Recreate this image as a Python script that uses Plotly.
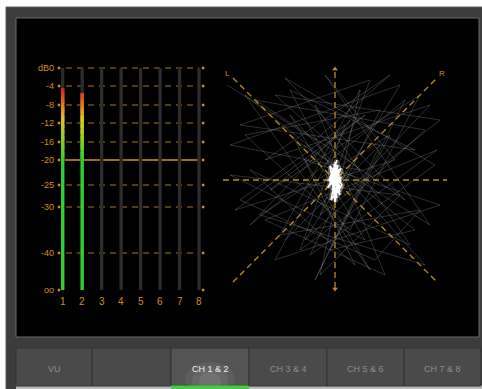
import numpy as np
import plotly.graph_objects as go

W, H = 482, 389

# ---- meter data ----
SCALE_LABELS = ["dB0", "-4", "-8", "-12", "-16", "-20", "-25", "-30", "-40", "oo"]
SCALE_DB = [0, -4, -8, -12, -16, -20, -25, -30, -40, -90]
CHANNELS = [1, 2, 3, 4, 5, 6, 7, 8]
CHANNEL_LABELS = ["1", "2", "3", "4", "5", "6", "7", "8"]
CHANNEL_LEVELS_DB = [-4.6, -5.5, None, None, None, None, None, None]

# ---- phase scope data (scope units, L/R diagonals at +-1) ----
SCOPE_X = [-1.08, -0.20, 0.55, -0.70, 0.95, 0.10, -0.45, 0.80, -0.95, 0.35,
           -0.15, 1.05, -0.60, 0.25, -1.05, 0.65, -0.30, 0.90, -0.80, 0.05,
           0.70, -0.50, 1.00, -0.25, 0.45, -0.90, 0.15, 0.85, -0.65, 0.30,
           -1.00, 0.60, -0.10, 0.95, -0.40, 0.20, -0.85, 0.75, -0.20, 0.50,
           -0.70, 1.02, -0.35, 0.10, -0.95, 0.40, 0.85, -0.55, 0.25, -0.15,
           0.65, -1.05, 0.30, -0.45, 0.90, -0.75, 0.55, -0.05, 0.80, -0.90,
           0.35, -0.30, 1.05, -0.60, 0.15, -0.85, 0.70, -0.20, 0.45, -0.50]
SCOPE_Y = [0.95, 0.40, 1.05, 0.20, 0.75, -0.15, 0.90, 0.30, 0.55, 1.00,
           -0.35, 0.60, 0.85, 0.10, 0.35, 0.95, -0.60, 0.50, 0.80, 0.25,
           -0.20, 1.02, 0.15, -0.75, 0.70, 0.45, -0.50, 0.85, -0.10, 0.65,
           -0.30, 0.20, 1.05, -0.45, 0.40, -0.85, 0.10, -0.65, 0.75, -0.95,
           -0.40, 0.30, -0.70, 0.55, -0.20, -0.80, -0.30, -0.55, 0.90, -0.95,
           -0.15, 0.05, -0.60, 0.65, -0.85, -0.35, 0.45, -0.70, -0.50, 0.85,
           -0.90, 0.20, -0.25, -0.80, 0.60, -0.45, 0.80, -1.00, 0.35, -0.60]
BLOB_X = [0.00, 0.04, -0.03, 0.06, -0.05, 0.02, -0.06, 0.05, -0.02, 0.07,
          -0.04, 0.03, -0.07, 0.01, 0.05, -0.03, 0.06, -0.05, 0.00, 0.04,
          -0.06, 0.03, -0.02, 0.06, -0.04, 0.02, -0.05, 0.05, -0.01, 0.03,
          -0.03, 0.04, -0.02, 0.01]
BLOB_Y = [0.18, 0.05, -0.10, 0.12, -0.02, 0.20, 0.00, -0.15, 0.10, -0.05,
          -0.20, 0.15, -0.08, 0.08, -0.12, 0.03, -0.01, 0.14, -0.22, 0.06,
          -0.06, 0.11, -0.14, 0.02, 0.09, -0.18, 0.04, -0.09, 0.16, -0.04,
          0.07, -0.11, 0.01, -0.16]

TAB_LABELS = ["VU", "", "CH 1 & 2", "CH 3 & 4", "CH 5 & 6", "CH 7 & 8"]
ACTIVE_TAB = 2

# ---- styling / geometry ----
ORANGE = "#d48c25"
DASH_ORANGE = "#a87722"
SCALE_POS = [222, 204, 185, 167, 148, 130, 105, 83, 37, 0]  # px above the oo line
TAB_EDGES = [16, 92, 171, 249, 327, 404, 481]
GRAD_DB = [-20, -15, -11, -7.5, -4.5]
GRAD_RGB = [(48, 210, 48), (150, 210, 30), (225, 200, 30), (230, 110, 25), (215, 30, 25)]

# meter x scale: column 1 at px 62.7, 19.47 px per column
COL_PX0, COL_STEP = 62.7, 19.47
Y_BOTTOM = 290


def px(x):
    return x / W


def py(y):
    return 1 - y / H


def db_to_pos(db):
    return float(np.interp(db, SCALE_DB[::-1], SCALE_POS[::-1]))


def level_color(db):
    r, g, b = (np.interp(db, GRAD_DB, [c[i] for c in GRAD_RGB]) for i in range(3))
    return f"rgb({int(r)},{int(g)},{int(b)})"


fig = go.Figure()

# column tracks
top = db_to_pos(0)
fig.add_trace(go.Bar(x=CHANNELS, base=[0] * 8, y=[top] * 8, width=0.17,
                     marker=dict(color="#2c2c2c", line_width=0),
                     xaxis="x", yaxis="y", hoverinfo="skip"))

p20 = db_to_pos(-20)
# level bars: green up to -20 dB, then graded to red
bx, bbase, bh, bcol = [], [], [], []
for ch, lvl in zip(CHANNELS, CHANNEL_LEVELS_DB):
    if lvl is None:
        continue
    bx.append(ch); bbase.append(0); bh.append(p20); bcol.append(level_color(-20))
    for d in np.arange(-20, lvl, 0.25):
        d2 = min(d + 0.25, lvl)
        b0, b1 = db_to_pos(d), db_to_pos(d2)
        bx.append(ch); bbase.append(b0); bh.append(b1 - b0 + 0.3); bcol.append(level_color(d))
fig.add_trace(go.Bar(x=bx, base=bbase, y=bh, width=0.17,
                     marker=dict(color=bcol, line_width=0),
                     xaxis="x", yaxis="y", hoverinfo="skip"))

# end dots
dx, dy = [], []
for lab, db in zip(SCALE_LABELS, SCALE_DB):
    p = db_to_pos(db)
    dx += [0.81, 8.21]
    dy += [p, p]
fig.add_trace(go.Scatter(x=dx, y=dy, mode="markers",
                         marker=dict(color=ORANGE, size=2.5, symbol="square"),
                         xaxis="x", yaxis="y", hoverinfo="skip", cliponaxis=False))

# ---- phase scope ----
fig.add_trace(go.Scatter(x=SCOPE_X, y=SCOPE_Y, mode="lines",
                         line=dict(color="rgba(160,160,160,0.36)", width=0.8),
                         xaxis="x2", yaxis="y2", hoverinfo="skip"))
guide = dict(color="#c08828", width=1.3, dash="6px,4px")
fig.add_trace(go.Scatter(x=[-1.12, 1.12, None, 0, 0, None, -1.02, 1.02, None, -1.02, 1.02],
                         y=[0, 0, None, -1.08, 1.10, None, 1.02, -1.02, None, -1.02, 1.02],
                         mode="lines", line=guide,
                         xaxis="x2", yaxis="y2", hoverinfo="skip"))
fig.add_trace(go.Scatter(x=[0, 0], y=[1.11, -1.09], mode="markers",
                         marker=dict(color="#c08828", size=5,
                                     symbol=["triangle-up", "triangle-down"]),
                         xaxis="x2", yaxis="y2", hoverinfo="skip", cliponaxis=False))
fig.add_trace(go.Scatter(x=BLOB_X, y=BLOB_Y, mode="lines",
                         line=dict(color="rgba(255,255,255,0.3)", width=5),
                         xaxis="x2", yaxis="y2", hoverinfo="skip"))
fig.add_trace(go.Scatter(x=BLOB_X, y=BLOB_Y, mode="lines",
                         line=dict(color="white", width=1.5),
                         xaxis="x2", yaxis="y2", hoverinfo="skip"))

# ---- panels ----
shapes = [
    dict(type="rect", xref="paper", yref="paper", x0=px(6), x1=px(484), y0=py(392), y1=py(7),
         fillcolor="#3c3c3c", line=dict(color="#5a5a5a", width=1), layer="below"),
    dict(type="rect", xref="paper", yref="paper", x0=px(16), x1=px(479), y0=py(337), y1=py(18),
         fillcolor="black", line=dict(color="#6a6a6a", width=1), layer="below"),
    dict(type="rect", xref="paper", yref="paper", x0=px(16), x1=px(482), y0=py(389), y1=py(385),
         fillcolor="#b8b8b8", line_width=0, layer="below"),
]
# meter scale lines, drawn as shapes on the meter axes
for lab, db in zip(SCALE_LABELS, SCALE_DB):
    if lab == "oo":
        continue
    p = db_to_pos(db)
    solid = lab == "-20"
    shapes.append(dict(type="line", xref="x", yref="y", x0=1.1 if solid else 1.17, x1=8.0,
                       y0=p, y1=p, layer="below",
                       line=dict(color="#a06c1c" if solid else DASH_ORANGE,
                                 width=2 if solid else 1.2,
                                 dash="solid" if solid else "6px,5px")))

annotations = []
for i, lab in enumerate(TAB_LABELS):
    x0, x1 = TAB_EDGES[i], TAB_EDGES[i + 1]
    active = i == ACTIVE_TAB
    shapes.append(dict(type="rect", xref="paper", yref="paper", x0=px(x0), x1=px(x1),
                       y0=py(386), y1=py(348), fillcolor="#545454" if active else "#4a4a4a",
                       line=dict(color="#333333", width=1), layer="below"))
    if active:
        for k, a in enumerate([0.06, 0.06, 0.07]):
            shapes.append(dict(type="circle", xref="paper", yref="paper",
                               x0=px(x0 + 14 + 7 * k), x1=px(x1 - 14 - 7 * k),
                               y0=py(396 - 2 * k), y1=py(362 + 5 * k),
                               fillcolor=f"rgba(255,255,255,{a})", line_width=0, layer="below"))
        shapes.append(dict(type="rect", xref="paper", yref="paper", x0=px(x0), x1=px(x1),
                           y0=py(389), y1=py(385.5), fillcolor="#3fd03f", line_width=0, layer="below"))
    if lab:
        annotations.append(dict(x=px((x0 + x1) / 2), y=py(369), xref="paper", yref="paper",
                                text=lab, showarrow=False, xanchor="center", yanchor="middle",
                                font=dict(color="#f2f2f2" if active else "#8c8c8c", size=9,
                                          family="Liberation Sans")))

# meter labels (paper coords, so they are not hidden outside the axis range)
for lab, db in zip(SCALE_LABELS, SCALE_DB):
    annotations.append(dict(x=px(56), y=py(Y_BOTTOM - db_to_pos(db)), xref="paper", yref="paper",
                            text=lab, xanchor="right", yanchor="middle", showarrow=False,
                            font=dict(color=ORANGE, size=9, family="Liberation Sans")))
for ch, lab in zip(CHANNELS, CHANNEL_LABELS):
    annotations.append(dict(x=px(COL_PX0 + (ch - 1) * COL_STEP), y=py(301), xref="paper", yref="paper",
                            text=lab, showarrow=False, xanchor="center", yanchor="middle",
                            font=dict(color=ORANGE, size=10, family="Liberation Sans")))
# scope labels
for x, y, t in [(0, 1.2, "In Phase"), (-1.08, 1.07, "L"), (1.07, 1.07, "R")]:
    annotations.append(dict(x=x, y=y, xref="x2", yref="y2", text=t, showarrow=False,
                            xanchor="center", yanchor="middle",
                            font=dict(color=ORANGE, size=8, family="Liberation Sans")))

hidden = dict(visible=False, showgrid=False, zeroline=False, fixedrange=True)
fig.update_layout(
    width=W, height=H, margin=dict(l=0, r=0, t=0, b=0),
    paper_bgcolor="white", plot_bgcolor="rgba(0,0,0,0)",
    showlegend=False, barmode="overlay",
    xaxis=dict(domain=[px(57), px(207)], range=[0.707, 8.41], **hidden),
    yaxis=dict(domain=[py(295), py(63)], range=[-5, 227], **hidden),
    xaxis2=dict(domain=[px(220), px(450)], range=[-1.15, 1.15], anchor="y2", **hidden),
    yaxis2=dict(domain=[py(295), py(65)], range=[-1.15, 1.15], anchor="x2", **hidden),
    shapes=shapes, annotations=annotations,
)

fig.write_html("out.html", config={"displayModeBar": False},
               post_script="document.body.style.margin='0';")
